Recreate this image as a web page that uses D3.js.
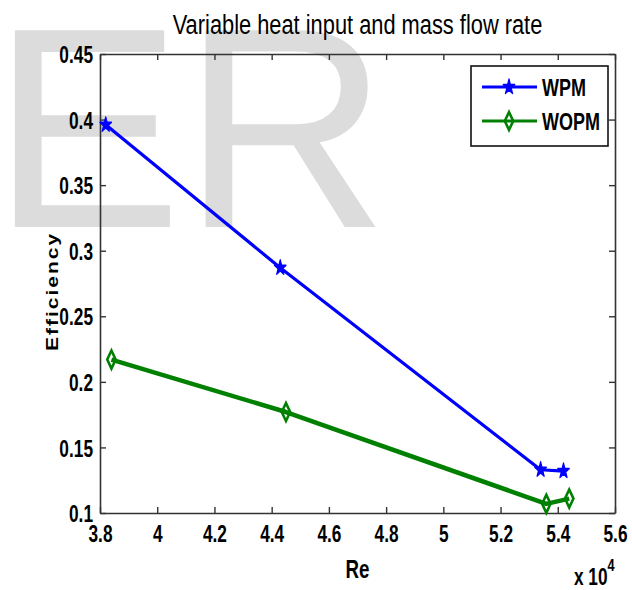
<!DOCTYPE html>
<html>
<head>
<meta charset="utf-8">
<script src="https://cdn.jsdelivr.net/npm/d3@7"></script>
<style>
  html, body { margin: 0; padding: 0; background: #fff; }
  svg { display: block; }
  text { font-family: "Liberation Sans", Arial, sans-serif; fill: #000; }
</style>
</head>
<body>
<svg id="chart" width="632" height="590"></svg>
<script>
// Reynolds number (x 10^4) and efficiency for each configuration
const seriesNames = ["WPM", "WOPM"];
const reWPM  = [3.82, 4.43, 5.34, 5.42];
const effWPM = [0.396, 0.287, 0.133, 0.132];
const reWOPM  = [3.84, 4.45, 5.36, 5.44];
const effWOPM = [0.217, 0.177, 0.107, 0.111];

const xTicks = [3.8, 4.0, 4.2, 4.4, 4.6, 4.8, 5.0, 5.2, 5.4, 5.6];
const xTickLabels = ["3.8", "4", "4.2", "4.4", "4.6", "4.8", "5", "5.2", "5.4", "5.6"];
const yTicks = [0.1, 0.15, 0.2, 0.25, 0.3, 0.35, 0.4, 0.45];
const yTickLabels = ["0.1", "0.15", "0.2", "0.25", "0.3", "0.35", "0.4", "0.45"];

const titleText = "Variable heat input and mass flow rate";
const xLabel = "Re";
const yLabel = "Efficiency";

// layout
const plot = { left: 100, right: 615, top: 54, bottom: 513 };
const SX = 0.72;           // horizontal condensation of tick text
const axisColor = "#333";
const blue = "#0000ff", green = "#008000";

const svg = d3.select("#chart");

// faint watermark lettering behind the plot
svg.append("text")
  .attr("x", -8.6).attr("y", 227)
  .attr("font-size", 286)
  .style("fill", "#dcdcdc")
  .text("ER");

const x = d3.scaleLinear().domain([3.8, 5.6]).range([plot.left, plot.right]);
const y = d3.scaleLinear().domain([0.1, 0.45]).range([plot.bottom, plot.top]);

// axes box with inward ticks on all sides
function styleAxis(g) {
  g.selectAll("path.domain").attr("stroke", axisColor).attr("stroke-width", 1.6);
  g.selectAll(".tick line").attr("stroke", axisColor).attr("stroke-width", 1.4);
}

const bottomAxis = d3.axisBottom(x).tickValues(xTicks)
  .tickFormat((d, i) => xTickLabels[i]).tickSizeInner(-6).tickSizeOuter(0).tickPadding(10);
const gB = svg.append("g").attr("transform", `translate(0,${plot.bottom})`).call(bottomAxis);
styleAxis(gB);
gB.selectAll(".tick text")
  .attr("font-size", 24).attr("font-weight", "bold").attr("font-family", null)
  .attr("y", 29).attr("dy", null)
  .attr("transform", `scale(${SX},1)`);

const leftAxis = d3.axisLeft(y).tickValues(yTicks)
  .tickFormat((d, i) => yTickLabels[i]).tickSizeInner(-6).tickSizeOuter(0).tickPadding(7);
const gL = svg.append("g").attr("transform", `translate(${plot.left},0)`).call(leftAxis);
styleAxis(gL);
gL.selectAll(".tick text")
  .attr("font-size", 24).attr("font-weight", "bold").attr("font-family", null)
  .attr("x", -7 / SX).attr("dy", "0.36em")
  .attr("transform", `scale(${SX},1)`);

const gT = svg.append("g").attr("transform", `translate(0,${plot.top})`)
  .call(d3.axisTop(x).tickValues(xTicks).tickFormat("").tickSizeInner(-6).tickSizeOuter(0));
styleAxis(gT);
const gR = svg.append("g").attr("transform", `translate(${plot.right},0)`)
  .call(d3.axisRight(y).tickValues(yTicks).tickFormat("").tickSizeInner(-6).tickSizeOuter(0));
styleAxis(gR);

// series
const starPath = d3.symbol().type(d3.symbolStar).size(64)();
const diamondPath = "M0,-9L4.2,0L0,9L-4.2,0Z";

const series = [
  { name: seriesNames[0], xs: reWPM, ys: effWPM, color: blue, width: 3.2, marker: "star" },
  { name: seriesNames[1], xs: reWOPM, ys: effWOPM, color: green, width: 4.5, marker: "diamond" }
];

const line = d3.line().x(d => x(d[0])).y(d => y(d[1]));

function drawMarker(g, type, color) {
  if (type === "star") {
    g.append("path").attr("d", starPath)
      .attr("transform", `scale(0.8,1.05)`)
      .attr("fill", color).attr("stroke", color).attr("stroke-width", 1.5)
      .attr("stroke-linejoin", "round");
  } else {
    g.append("path").attr("d", diamondPath)
      .attr("fill", "none").attr("stroke", color).attr("stroke-width", 2.6);
  }
}

series.forEach(s => {
  const pts = s.xs.map((v, i) => [v, s.ys[i]]);
  svg.append("path").datum(pts)
    .attr("d", line)
    .attr("fill", "none").attr("stroke", s.color)
    .attr("stroke-width", s.width).attr("stroke-linejoin", "round");
  pts.forEach(p => {
    const g = svg.append("g").attr("transform", `translate(${x(p[0])},${y(p[1])})`);
    drawMarker(g, s.marker, s.color);
  });
});

// legend
const lg = svg.append("g");
lg.append("rect").attr("x", 471).attr("y", 66).attr("width", 137).attr("height", 80)
  .attr("fill", "#fff").attr("stroke", "#111").attr("stroke-width", 1.6);
series.forEach((s, i) => {
  const cy = 87 + i * 34;
  lg.append("line").attr("x1", 482).attr("x2", 537).attr("y1", cy).attr("y2", cy)
    .attr("stroke", s.color).attr("stroke-width", 3);
  const mg = lg.append("g").attr("transform", `translate(509,${cy})`);
  drawMarker(mg, s.marker, s.color);
  lg.append("text")
    .attr("transform", `translate(542,${cy + 9}) scale(0.75,1)`)
    .attr("font-size", 24).attr("font-weight", "bold")
    .text(s.name);
});

// title
svg.append("text")
  .attr("transform", `translate(${(plot.left + plot.right) / 2},34) scale(0.78,1)`)
  .attr("text-anchor", "middle").attr("font-size", 28)
  .text(titleText);

// x-axis label
svg.append("text")
  .attr("transform", `translate(${(plot.left + plot.right) / 2},578) scale(0.75,1)`)
  .attr("text-anchor", "middle").attr("font-size", 25).attr("font-weight", "bold")
  .text(xLabel);

// exponent note under the x axis
const ex = svg.append("text")
  .attr("transform", `translate(574,585) scale(0.75,1)`)
  .attr("font-size", 23).attr("font-weight", "bold");
ex.append("tspan").text("x 10");
ex.append("tspan").attr("font-size", 17).attr("dy", -14).text("4");

// y-axis label
svg.append("text")
  .attr("transform", `translate(58,${(plot.top + plot.bottom) / 2 + 8}) scale(0.8,1) rotate(-90)`)
  .attr("text-anchor", "middle").attr("font-size", 21).attr("font-weight", "bold")
  .attr("letter-spacing", 2)
  .text(yLabel);
</script>
</body>
</html>
